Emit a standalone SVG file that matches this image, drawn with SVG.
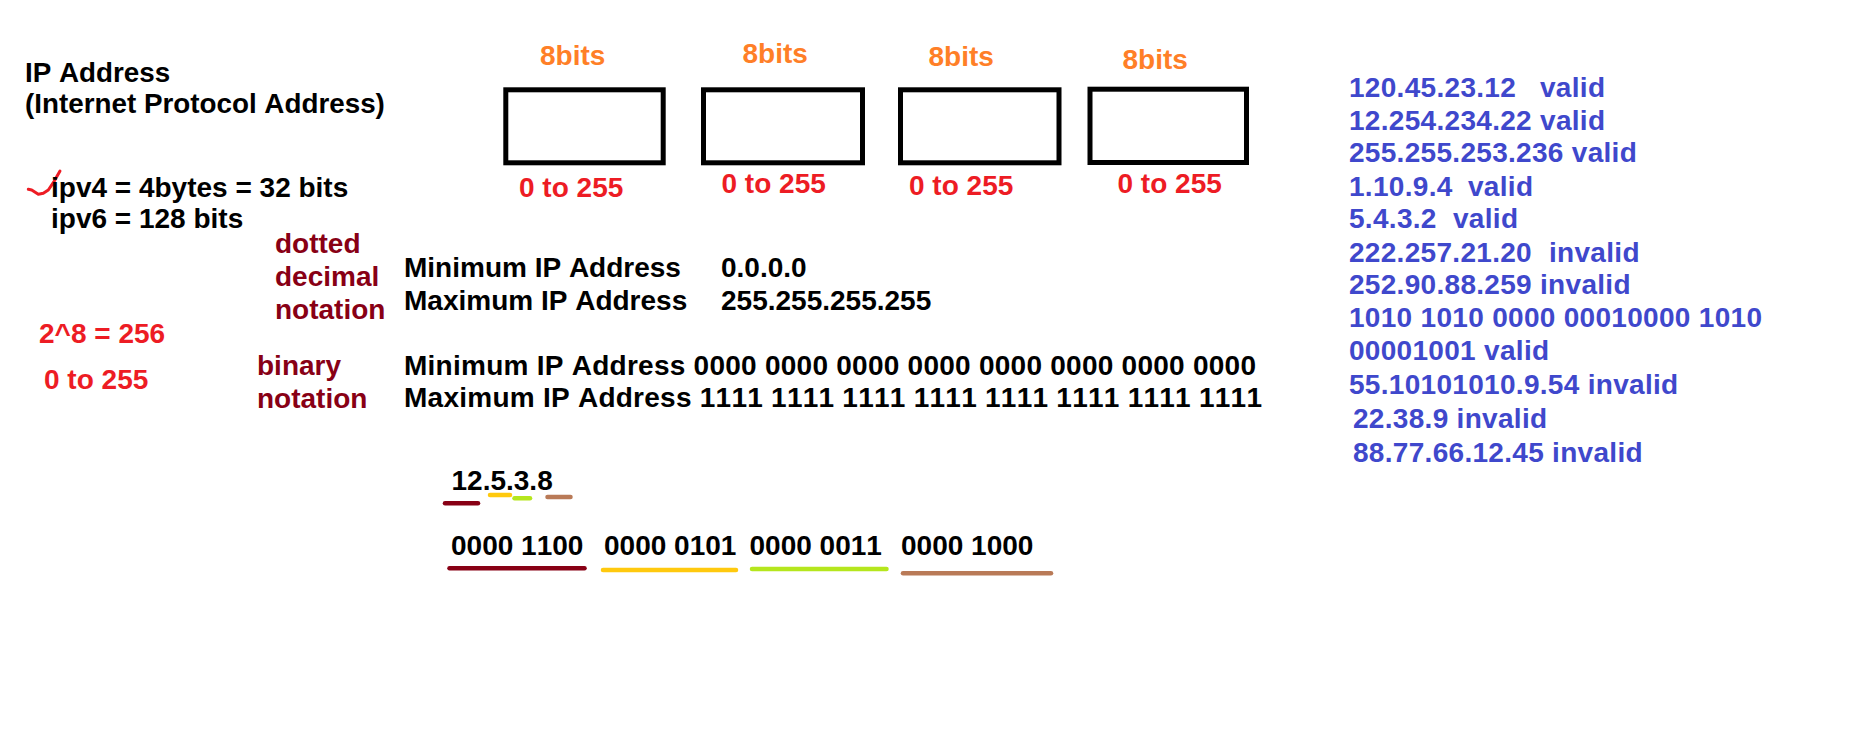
<svg xmlns="http://www.w3.org/2000/svg" width="1852" height="743" viewBox="0 0 1852 743">
<style>
text{font-family:"Liberation Sans",Arial,sans-serif;font-weight:bold;font-size:28px;font-kerning:none}
.t{font-size:27.8px}
.k{fill:#000}
.r{fill:#ed1c24}
.o{fill:#ff7f27}
.dr{fill:#880015}
.b{fill:#3f48cc;letter-spacing:0.3px}
.box{fill:#fff;stroke:#000;stroke-width:5}
.ul{stroke-width:4.5;stroke-linecap:round;fill:none}
</style>
<rect width="1852" height="743" fill="#fff"/>
<g id="title">
<text class="k t" x="25" y="82">IP Address</text>
<text class="k t" x="25" y="113">(Internet Protocol Address)</text>
</g>
<g id="versions">
<path d="M28.3 189.3 L31.7 190 L38.3 194.3 L43.3 193.3 L48.3 190 L53.3 182.7 L60 171" fill="none" stroke="#ed1c24" stroke-width="3" stroke-linecap="round" stroke-linejoin="round"/>
<text class="k" x="51" y="197">ipv4 = 4bytes = 32 bits</text>
<text class="k" x="51" y="228">ipv6 = 128 bits</text>
</g>
<g id="range-left">
<text class="r" x="39" y="343">2^8 = 256</text>
<text class="r" x="44" y="389">0 to 255</text>
</g>
<g id="notation-labels">
<text class="dr" x="275" y="253">dotted</text>
<text class="dr" x="275" y="286">decimal</text>
<text class="dr" x="275" y="319">notation</text>
<text class="dr" x="257" y="375">binary</text>
<text class="dr" x="257" y="408">notation</text>
</g>
<g id="octet1">
<text class="o" x="540" y="65">8bits</text>
<rect class="box" x="505.8" y="89.8" width="157.4" height="73"/>
<text class="r" x="519" y="197">0 to 255</text>
</g>
<g id="octet2">
<text class="o" x="742.5" y="63">8bits</text>
<rect class="box" x="703.5" y="89.8" width="159" height="73"/>
<text class="r" x="721.5" y="193">0 to 255</text>
</g>
<g id="octet3">
<text class="o" x="928.5" y="66">8bits</text>
<rect class="box" x="900.5" y="89.8" width="158.5" height="73"/>
<text class="r" x="909" y="195">0 to 255</text>
</g>
<g id="octet4">
<text class="o" x="1122.5" y="69">8bits</text>
<rect class="box" x="1090" y="89.2" width="156.5" height="73.3"/>
<text class="r" x="1117.5" y="193">0 to 255</text>
</g>
<g id="dotted-range">
<text class="k" x="404" y="277">Minimum IP Address</text>
<text class="k" x="721" y="277">0.0.0.0</text>
<text class="k" x="404" y="310">Maximum IP Address</text>
<text class="k" x="721" y="310">255.255.255.255</text>
</g>
<g id="binary-range">
<text class="k" x="404" y="375" textLength="852" lengthAdjust="spacing">Minimum IP Address 0000 0000 0000 0000 0000 0000 0000 0000</text>
<text class="k" x="404" y="407" textLength="858" lengthAdjust="spacing">Maximum IP Address 1111 1111 1111 1111 1111 1111 1111 1111</text>
</g>
<g id="example">
<text class="k" x="451.5" y="490">12.5.3.8</text>
<line class="ul" stroke="#880015" x1="445" y1="503.3" x2="478" y2="503.3"/>
<line class="ul" stroke="#ffc90e" x1="490" y1="495" x2="510" y2="495"/>
<line class="ul" stroke="#b5e61d" x1="514.5" y1="498.3" x2="530" y2="498.3"/>
<line class="ul" stroke="#b97a57" x1="547.5" y1="497" x2="570.5" y2="497"/>
<text class="k" x="451" y="555">0000 1100</text>
<text class="k" x="604" y="555">0000 0101</text>
<text class="k" x="749.5" y="555">0000 0011</text>
<text class="k" x="901" y="555">0000 1000</text>
<line class="ul" stroke="#880015" x1="449.5" y1="568.3" x2="584.5" y2="568.3"/>
<line class="ul" stroke="#ffc90e" x1="603" y1="570" x2="736" y2="570"/>
<line class="ul" stroke="#b5e61d" x1="752" y1="569" x2="886.5" y2="569"/>
<line class="ul" stroke="#b97a57" x1="903" y1="573.3" x2="1051" y2="573.3"/>
</g>
<g id="examples-list">
<text class="b" x="1349" y="97">120.45.23.12<tspan x="1540">valid</tspan></text>
<text class="b" x="1349" y="130">12.254.234.22 valid</text>
<text class="b" x="1349" y="162">255.255.253.236 valid</text>
<text class="b" x="1349" y="196">1.10.9.4<tspan x="1468">valid</tspan></text>
<text class="b" x="1349" y="228">5.4.3.2<tspan x="1453">valid</tspan></text>
<text class="b" x="1349" y="262">222.257.21.20<tspan x="1549">invalid</tspan></text>
<text class="b" x="1349" y="294">252.90.88.259 invalid</text>
<text class="b" x="1349" y="327">1010 1010 0000 00010000 1010</text>
<text class="b" x="1349" y="360">00001001 valid</text>
<text class="b" x="1349" y="394">55.10101010.9.54 invalid</text>
<text class="b" x="1353" y="428">22.38.9 invalid</text>
<text class="b" x="1353" y="462">88.77.66.12.45 invalid</text>
</g>
</svg>
